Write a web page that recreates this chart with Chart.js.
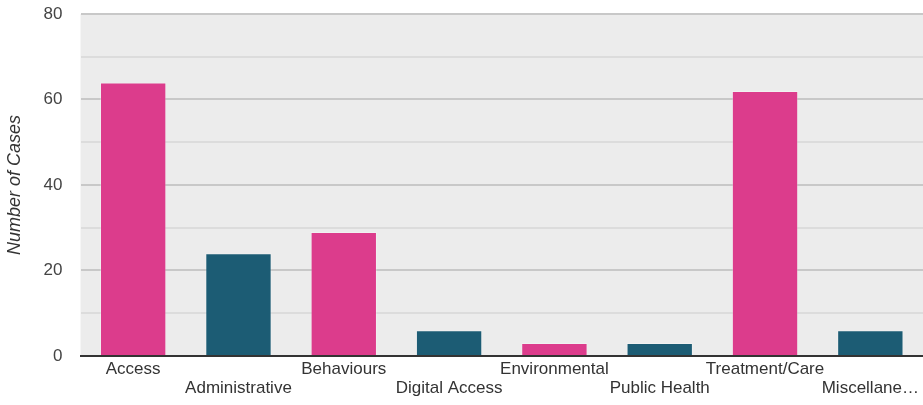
<!DOCTYPE html>
<html>
<head>
<meta charset="utf-8">
<script src="https://cdn.jsdelivr.net/npm/chart.js@4/dist/chart.umd.min.js"></script>
<style>
  html, body { margin: 0; padding: 0; background: #fff; }
  #wrap { width: 923px; height: 405px; position: relative; }
</style>
</head>
<body>
<div id="wrap"><canvas id="casesChart"></canvas></div>
<script>
// chart data
const categories = ['Access', 'Administrative', 'Behaviours', 'Digital Access', 'Environmental', 'Public Health', 'Treatment/Care', 'Miscellaneous'];
const caseCounts = [64, 24, 29, 6, 3, 3, 62, 6];
const barColours = ['#dc3c8c', '#1c5c74', '#dc3c8c', '#1c5c74', '#dc3c8c', '#1c5c74', '#dc3c8c', '#1c5c74'];
const yTicks = [0, 20, 40, 60, 80];

// grey plot background
const plotBg = {
  id: 'plotBg',
  beforeDraw(chart){
    const a = chart.chartArea;
    const ctx = chart.ctx;
    ctx.save();
    ctx.fillStyle = '#ececec';
    ctx.fillRect(a.left, a.top, a.right - a.left, a.bottom - a.top);
    ctx.restore();
  }
};

Chart.defaults.font.family = '"Liberation Sans", Arial, sans-serif';

new Chart(document.getElementById('casesChart'), {
  type: 'bar',
  data: {
    // stagger every other label onto a second line, last one runs off the edge
    labels: categories.map((c, i) => {
      const txt = i === categories.length - 1 ? c.slice(0, 10) + '…' : c;
      return i % 2 ? ['', txt] : txt;
    }),
    datasets: [{
      data: caseCounts,
      backgroundColor: barColours,
      borderColor: 'rgba(255,255,255,0.25)',
      borderWidth: 1,
      categoryPercentage: 0.63,
      barPercentage: 1
    }]
  },
  options: {
    responsive: true,
    maintainAspectRatio: false,
    animation: false,
    layout: { padding: { top: 14, left: 4, right: 0, bottom: 3 } },
    plugins: { legend: { display: false }, tooltip: { enabled: false } },
    scales: {
      x: {
        grid: { display: false, drawTicks: false },
        border: { color: '#333', width: 2 },
        ticks: {
          color: '#333',
          font: { size: 17, lineHeight: 1.12 },
          padding: 4,
          maxRotation: 0,
          autoSkip: false
        }
      },
      y: {
        min: 0,
        max: 80,
        border: { display: false },
        grid: {
          color: c => (c.tick.value % 20 === 0 ? '#c8c8c8' : '#dcdcdc'),
          lineWidth: 2,
          drawTicks: false
        },
        ticks: {
          stepSize: 10,
          color: '#444',
          font: { size: 17 },
          padding: 18,
          callback: v => (yTicks.includes(v) ? v : '')
        },
        title: {
          display: true,
          text: 'Number of Cases',
          color: '#333',
          font: { size: 18, style: 'italic' },
          padding: { top: 0, bottom: 0 }
        },
        // let the top tick label overhang the plot area
        afterFit: s => { s.paddingTop = 0; s.paddingBottom = 0; }
      }
    }
  },
  plugins: [plotBg]
});
</script>
</body>
</html>
